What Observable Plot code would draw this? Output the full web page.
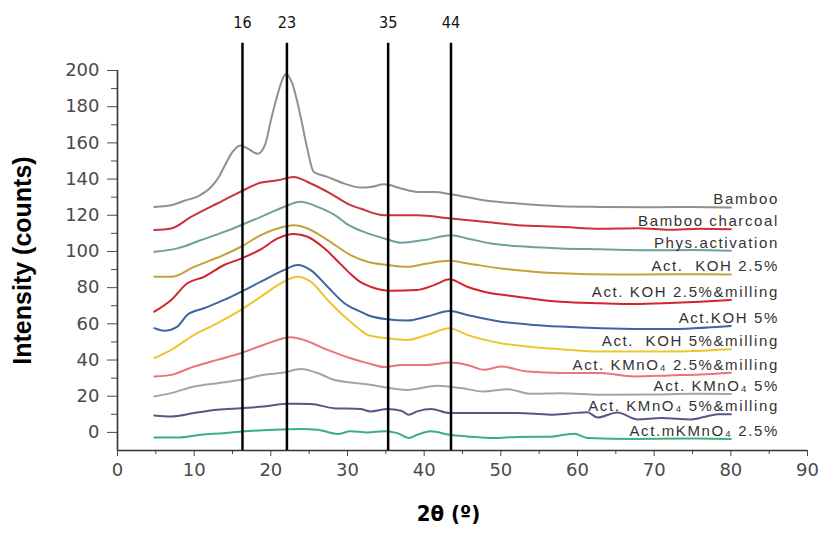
<!DOCTYPE html>
<html><head><meta charset="utf-8">
<script src="https://cdn.jsdelivr.net/npm/d3@7"></script>
<script src="https://cdn.jsdelivr.net/npm/@observablehq/plot@0.6"></script>
<style>body{margin:0;background:#fff} svg{display:block}</style>
</head><body><div id="chart"></div>
<script>
// ---- data ----
const seriesNames = [
  "Bamboo", "Bamboo charcoal", "Phys.activation", "Act.\u00a0 KOH 2.5%",
  "Act. KOH 2.5%&milling", "Act.KOH 5%", "Act.\u00a0 KOH 5%&milling",
  "Act. KMnO\u2084 2.5%&milling", "Act. KMnO\u2084 5%", "Act. KMnO\u2084 5%&milling",
  "Act.mKMnO\u2084 2.5%"
];
const seriesColors = [
  "#958f8b", "#c9323b", "#6f9fa1", "#c4a23a", "#d3242d", "#3d66a0",
  "#ebc62e", "#e9737f", "#a4a4a4", "#57578b", "#3db07a"
];
const bamboo = [[4.8,124.6],[7,125.5],[8.7,128],[10.5,130.5],[12.2,135.6],[13.2,141],[13.9,146.7],[15,155],[16,158.6],[17,156.8],[18.3,154],[19.3,159.6],[20,172.4],[20.9,187],[21.5,195],[22,198.2],[22.8,192.7],[23.9,174.2],[24.8,155.9],[25.6,143.9],[27.4,141.2],[29.6,137.5],[31.7,135.3],[33,135.6],[34.8,137.1],[37,134.8],[39.1,132.9],[41.3,132.9],[43.5,131.6],[47.8,128.3],[52.2,126.5],[57.8,125],[63,124.6],[70,124.4],[75,124.6],[80,124.3]];
const charcoal = [[4.8,111.8],[7,112.7],[9.6,119.1],[13,126.5],[16,132.9],[18.3,137.5],[20.9,139.3],[23,141.2],[24.8,138.4],[27.8,132],[30.4,125.6],[31.7,123.7],[34.8,120],[39.1,120],[43.5,118.2],[47.8,116.4],[52.2,114.5],[57.8,113.6],[63,112.5],[68,112.8],[72,112],[76,112.6],[80,112.3]];
const physAct = [[4.8,99.8],[7.8,101.7],[10.9,106.3],[13.9,110.8],[16.1,114.5],[18.7,119.1],[21.7,124.6],[23.9,127.4],[26.1,124.6],[28.7,119.1],[29.8,115.5],[31.7,111.5],[34.8,107.2],[37,104.8],[40,106.3],[43.5,109],[45.6,107.2],[48.7,104.4],[53.5,102.6],[57.8,101.7],[63,101.2],[70,100.6],[75,100.8],[80,100.4]];
const koh25 = [[4.8,86],[7,86],[10,91.5],[12.2,95.2],[13,96.5],[16.1,102.6],[18.7,109],[21.7,113.6],[23,114.5],[24.8,112.7],[27.4,106.3],[30.4,98],[32.6,94.3],[35.2,92.5],[37.8,91.5],[40.4,93.4],[43.3,94.8],[45.6,93.4],[50,90.6],[54.3,88.8],[57.8,87.9],[65,87.2],[72,87.4],[80,87.3]];
const koh25m = [[4.8,66.7],[7,73.2],[9.1,82.4],[11.3,86],[13.9,92.5],[16.1,96],[18.7,101.2],[20.9,107.2],[23,109.6],[24.8,108.1],[26.9,102],[29.1,93],[30.4,87.5],[31.7,83],[33,80.5],[35.6,78.3],[39.1,78.7],[41.3,81.4],[43.3,84.6],[45.6,80.5],[47.8,77.7],[52.2,75],[57.8,72.2],[63,71.4],[67.4,71],[72,71.5],[76,72.2],[80,73.2]];
const koh5 = [[4.8,57.6],[6.1,56.2],[7.8,58.5],[9.1,64.9],[11.3,68.6],[13.9,73.2],[16.1,77.7],[18.7,83.3],[21.7,89.7],[23.5,92.5],[25.2,89.7],[27.4,80.5],[29.6,71.4],[31.7,66.7],[32.6,64.9],[35.2,62.5],[37.8,61.8],[40.4,64],[43.3,67.1],[45.6,64.9],[50,61.2],[54.3,59.4],[57.8,58.5],[63,57.6],[71.7,57.1],[80,58.8]];
const koh5m = [[4.8,41],[7,45.6],[10,53.9],[13,60.3],[16.1,67.7],[18.7,75],[21.3,82.4],[23.5,86],[25.2,83.3],[27.4,73.2],[29.6,64],[31.7,56.6],[32.6,53.9],[35.2,52],[37.8,51.1],[40.4,53.9],[43.3,57.6],[45.6,53.9],[50,49.3],[54.3,47.1],[57.8,46],[63,44.7],[71.7,44.7],[80,46]];
const kmn25m = [[4.8,30.9],[7,31.8],[10,36.4],[13,40.1],[16.1,43.8],[19.1,48.4],[22.6,52.6],[24.3,51.1],[27.4,45.6],[30.4,41],[32.6,38.3],[34.8,36.1],[37,37.3],[40.4,37.3],[43.3,38.6],[45.6,37.3],[47.8,34.6],[50,36.4],[53.5,33.6],[57.8,32.8],[63,32.8],[67.4,30.9],[72,31.5],[76,32],[80,33]];
const kmn5 = [[4.8,19.9],[7,21.7],[10,25.4],[13,27.2],[16.1,29.1],[19.1,31.8],[21.7,33.1],[23.9,35],[26.1,32.8],[28.2,29.1],[30.4,27.6],[33,26.3],[34.8,25],[37.8,23.5],[41.7,25.8],[44.8,24.5],[47.8,22.6],[50.9,23.9],[53.9,21.3],[57.8,21.7],[63,20.8],[70,21],[75,21.3],[80,21.2]];
const kmn5m = [[4.8,9.4],[7,8.8],[10,10.7],[13,12.5],[16.1,13.4],[19.1,14.3],[22.2,15.8],[25.2,15.7],[28.2,13.4],[31.7,12.9],[33,11.6],[35.2,12.9],[37,12],[38,9.8],[39.1,11.6],[40.9,12.9],[43.3,10.7],[47.8,10.7],[52.2,10.7],[56.5,9.8],[59,10.5],[61.3,11.2],[62.6,8.2],[65.2,11],[67.8,7.2],[70.9,7.9],[74.8,7.2],[76.5,8.5],[78.3,10.1],[80,10.1]];
const mkmn25 = [[4.8,-2.8],[7.8,-2.8],[10.9,-1.3],[13.9,-0.4],[16.5,0.6],[20.4,1.5],[23.9,1.9],[26.1,1.5],[28.7,-0.9],[30.4,0.6],[32.6,0],[34.8,0.6],[36.5,-0.4],[38,-3.1],[39.1,-1.3],[40.9,0.6],[43.3,-1.3],[45.6,-2.2],[49.1,-3.1],[52.2,-2.5],[56.5,-2.4],[58.5,-1.2],[59.6,-0.8],[61.3,-3.1],[67.4,-3.6],[74,-3.4],[80,-3.6]];
const seriesPoints = [bamboo, charcoal, physAct, koh25, koh25m, koh5, koh5m, kmn25m, kmn5, kmn5m, mkmn25];

const peakPositions = [16.3, 22.1, 35.3, 43.5];
const peakLabels = ["16", "23", "35", "44"];

const xTicks = [0,10,20,30,40,50,60,70,80,90];
const xMinorTicks = [5,15,25,35,45,55,65,75,85];
const yTicks = [0,20,40,60,80,100,120,140,160,180,200];
const yMinorTicks = [10,30,50,70,90,110,130,150,170,190];
const xTitle = "2θ (º)";
const yTitle = "Intensity (counts)";

// ---- build tables ----
const rows = seriesNames.flatMap((name, i) => seriesPoints[i].map(([x, y]) => ({name, x, y})));
const ends = seriesNames.map((name, i) => {
  const p = seriesPoints[i][seriesPoints[i].length - 1];
  return {name, x: p[0], y: p[1]};
});
const peaks = peakPositions.map((x, i) => ({x, label: peakLabels[i]}));
const ruleTop = 215;

const chart = Plot.plot({
  width: 818,
  height: 539,
  marginTop: 70,
  marginBottom: 89,
  marginLeft: 117,
  marginRight: 11,
  x: {domain: [0, 90]},
  y: {domain: [-10, 200]},
  color: {type: "ordinal", domain: seriesNames, range: seriesColors},
  style: {fontFamily: "'Liberation Sans', Arial, sans-serif", background: "#fff", overflow: "visible"},
  marks: [
    Plot.axisY(yTicks, {tickSize: 10, tickPadding: 8, label: null, fontSize: 18, fontFamily: "'DejaVu Sans', sans-serif", color: "#4a4a4a"}),
    Plot.axisY(yMinorTicks, {tickSize: 6, text: null, label: null, color: "#4a4a4a"}),
    Plot.axisX(xTicks, {tickSize: 6, tickPadding: 7, label: null, fontSize: 18, fontFamily: "'DejaVu Sans', sans-serif", color: "#4a4a4a"}),
    Plot.axisX(xMinorTicks, {tickSize: 4, text: null, label: null, color: "#4a4a4a"}),
    Plot.ruleY([-10], {x1: 0, x2: 90, stroke: "#333", strokeWidth: 1.6}),
    Plot.ruleX([0], {y1: -10, y2: 200, stroke: "#333", strokeWidth: 1.6}),
    Plot.line(rows, {x: "x", y: "y", z: "name", stroke: "name", strokeWidth: 2, curve: "monotone-x"}),
    Plot.ruleX(peaks, {x: "x", y1: -10, y2: ruleTop, stroke: "#000", strokeWidth: 2.5}),
    Plot.text(peaks, {x: "x", y: ruleTop, dy: -20, text: "label", fontSize: 16, fontFamily: "'Liberation Sans Narrow', 'DejaVu Sans Condensed', sans-serif", fill: "#111"}),
    Plot.text(ends, {x: "x", y: "y", text: "name", dx: 48, dy: -8, textAnchor: "end", fontSize: 15, fill: "#333"}),
    Plot.text([yTitle], {frameAnchor: "left", textAnchor: "middle", dx: -95, rotate: -90, fontSize: 25, fontWeight: "bold", fill: "#000"}),
    Plot.text([xTitle], {frameAnchor: "bottom", textAnchor: "middle", dx: -14, dy: 70, fontSize: 22, fontWeight: "bold", fill: "#000", fontFamily: "'Liberation Sans Narrow', 'DejaVu Sans Condensed', sans-serif"})
  ]
});
d3.select(chart).selectAll("text").filter(function() { return seriesNames.includes(this.textContent); })
  .attr("letter-spacing", "1.6px");
document.getElementById("chart").appendChild(chart);
</script>
</body></html>
